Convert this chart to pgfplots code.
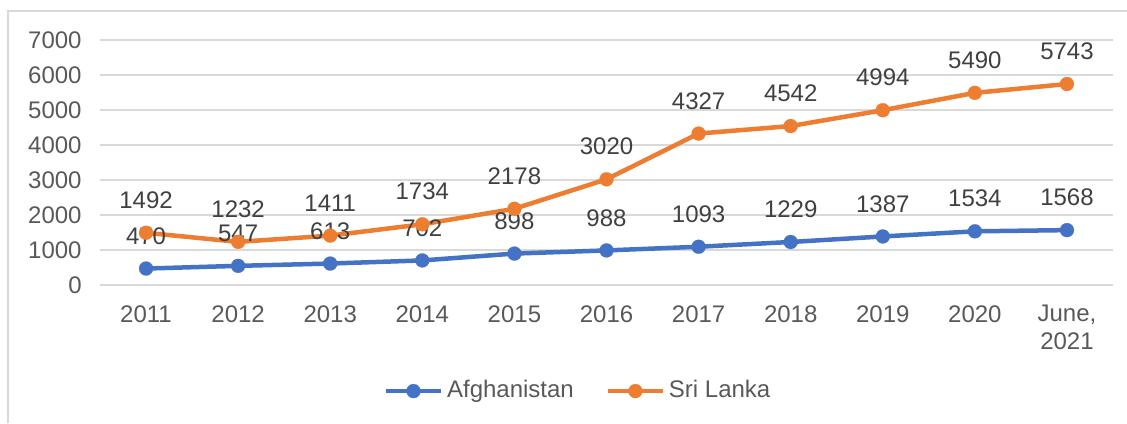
\documentclass[border=0pt]{standalone}
\usepackage{pgfplots}
\pgfplotsset{compat=1.18}
\usepackage{fontspec}
\setmainfont{Liberation Sans}
\definecolor{cblue}{RGB}{68,114,196}
\definecolor{corange}{RGB}{237,125,49}
\definecolor{cgrid}{RGB}{217,217,217}
\definecolor{ctick}{RGB}{89,89,89}
\definecolor{clab}{RGB}{64,64,64}
\begin{document}
\fontsize{12}{14}\selectfont
\begin{tikzpicture}
\path[use as bounding box] (-50pt,-69pt) rectangle (513.5pt,142.5pt);
\draw[cgrid,line width=0.6pt] (-46pt,-69pt) -- (-46pt,137pt) -- (513.5pt,137pt);
\begin{axis}[
  at={(0pt,0pt)}, anchor=south west,
  scale only axis, width=506.5pt, height=122.5pt,
  xmin=-0.5, xmax=10.5, ymin=0, ymax=7000,
  xtick={0,...,10},
  xticklabels={2011,2012,2013,2014,2015,2016,2017,2018,2019,2020,{June,\\2021}},
  xticklabel style={align=center, text=ctick, font=\fontsize{12}{14}\selectfont, anchor=north, yshift=-6pt},
  ytick={0,1000,...,7000},
  yticklabel style={text=ctick, font=\fontsize{12}{14}\selectfont, xshift=-5pt},
  /pgf/number format/assume math mode=true,
  /pgf/number format/1000 sep={},
  ymajorgrids, grid style={cgrid, line width=0.7pt},
  axis line style={draw=none},
  major tick style={draw=none},
  nodes near coords,
  every node near coord/.append style={text=clab, font=\fontsize{12}{14}\selectfont, inner sep=0pt, anchor=south, yshift=12pt},
  legend columns=2,
  legend style={draw=none, fill=none, at={(0.473,-0.433)}, anchor=center, text=ctick, font=\fontsize{12}{14}\selectfont, /tikz/every even column/.append style={column sep=14pt}},
  legend image code/.code={\draw[mark repeat=2,mark phase=2,#1] plot coordinates {(0cm,0cm)(0.48cm,0cm)(0.96cm,0cm)};},
]
\addplot[cblue, line width=2.25pt, mark=*, mark size=3.5pt, mark options={solid, fill=cblue, draw=cblue, line width=0.1pt}]
  coordinates {(0,470)(1,547)(2,613)(3,702)(4,898)(5,988)(6,1093)(7,1229)(8,1387)(9,1534)(10,1568)};
\addlegendentry{Afghanistan}
\addplot[corange, line width=2.25pt, mark=*, mark size=3.5pt, mark options={solid, fill=corange, draw=corange, line width=0.1pt}]
  coordinates {(0,1492)(1,1232)(2,1411)(3,1734)(4,2178)(5,3020)(6,4327)(7,4542)(8,4994)(9,5490)(10,5743)};
\addlegendentry{Sri Lanka}
\end{axis}
\end{tikzpicture}
\end{document}
